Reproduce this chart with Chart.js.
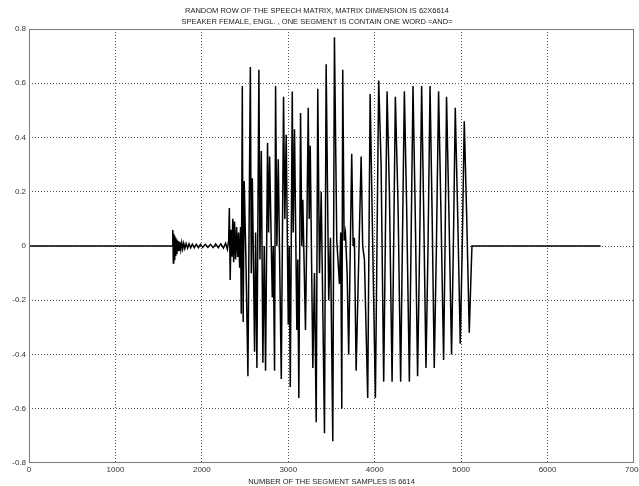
<!DOCTYPE html>
<html>
<head>
<meta charset="utf-8">
<script src="https://cdn.jsdelivr.net/npm/chart.js@4.4.1/dist/chart.umd.min.js"></script>
<style>
  body { margin: 0; background: #fff; }
  #wrap { width: 639px; height: 486px; }
</style>
</head>
<body>
<div id="wrap"><canvas id="speech-chart"></canvas></div>
<script>
const titleLines = [
  'RANDOM ROW OF THE SPEECH MATRIX, MATRIX DIMENSION IS 62X6614',
  'SPEAKER FEMALE, ENGL. , ONE SEGMENT IS CONTAIN ONE WORD =AND='
];
const xAxisLabel = 'NUMBER OF THE SEGMENT SAMPLES IS 6614';
const xTicks = [0, 1000, 2000, 3000, 4000, 5000, 6000, 7000];
const yTicks = [-0.8, -0.6, -0.4, -0.2, 0, 0.2, 0.4, 0.6, 0.8];

// peaks / troughs
const sampleIdx = [
  0, 1655, 1662, 1666, 1670, 1675, 1680, 1686, 1692, 1698, 1705, 1712, 1720, 1728, 1737, 1746,
  1756, 1767, 1778, 1790, 1803, 1818, 1835, 1852, 1870, 1890, 1912, 1935, 1960, 1985, 2010, 2040,
  2070, 2100, 2130, 2160, 2190, 2220, 2250, 2275, 2295, 2310, 2318, 2328, 2338, 2348, 2358, 2368,
  2378, 2390, 2402, 2414, 2425, 2437, 2448, 2456, 2468, 2478, 2490, 2510, 2533, 2561, 2572, 2584,
  2610, 2622, 2637, 2660, 2672, 2688, 2706, 2722, 2737, 2760, 2772, 2784, 2815, 2826, 2841, 2853,
  2868, 2884, 2919, 2945, 2960, 2976, 3000, 3011, 3023, 3046, 3057, 3072, 3099, 3110, 3122, 3142,
  3157, 3168, 3199, 3214, 3231, 3242, 3254, 3284, 3303, 3323, 3341, 3361, 3381, 3419, 3438, 3468,
  3488, 3515, 3534, 3561, 3592, 3607, 3619, 3630, 3646, 3661, 3681, 3699, 3734, 3750, 3765, 3785,
  3815, 3843, 3861, 3881, 3919, 3947, 3977, 4008, 4046, 4074, 4104, 4143, 4170, 4201, 4239, 4270,
  4300, 4343, 4369, 4401, 4443, 4470, 4496, 4520, 4543, 4568, 4593, 4617, 4640, 4665, 4689, 4714,
  4739, 4768, 4797, 4814, 4831, 4860, 4889, 4910, 4932, 4961, 4990, 5013, 5036, 5065, 5094, 5110,
  5125, 6614
];
const amplitude = [
  0, 0, 0.02, 0.059, -0.063, 0.045, -0.05, 0.038, -0.035, 0.03, -0.028, 0.024, -0.02, 0.018, -0.016, 0.015,
  -0.013, 0.012, -0.011, 0.01, -0.009, 0.009, -0.008, 0.008, -0.007, 0.007, -0.006, 0.006, -0.006, 0.006, -0.005, 0.006,
  -0.005, 0.006, -0.006, 0.007, -0.006, 0.008, -0.008, 0.01, -0.012, 0.02, 0.14, -0.125, 0.06, -0.04, 0.10, -0.06,
  0.09, -0.05, 0.07, -0.04, 0.05, -0.08, 0.07, -0.25, 0.59, -0.28, 0.24, -0.05, -0.48, 0.66, -0.1, 0.25,
  -0.39, 0.05, -0.45, 0.65, -0.05, 0.35, -0.43, 0.0, -0.46, 0.38, 0.05, 0.33, -0.19, 0.0, -0.46, 0.59,
  0.0, 0.32, -0.49, 0.55, 0.1, 0.41, -0.29, 0.0, -0.52, 0.57, 0.05, 0.43, -0.31, -0.05, -0.56, 0.49,
  0.0, 0.17, -0.31, 0.05, 0.51, 0.1, 0.37, -0.45, -0.1, -0.65, 0.58, -0.1, 0.2, -0.69, 0.67, -0.2,
  0.03, -0.72, 0.77, 0.02, -0.14, 0.05, -0.60, 0.65, 0.02, 0.05, -0.1, -0.40, 0.34, 0.0, 0.03, -0.46,
  -0.05, 0.33, 0.0, -0.05, -0.56, 0.56, 0.0, -0.56, 0.61, 0.3, -0.50, 0.57, 0.2, -0.50, 0.55, 0.15,
  -0.50, 0.57, 0.15, -0.50, 0.59, 0.1, -0.48, 0.0, 0.59, 0.1, -0.45, 0.0, 0.59, 0.1, -0.45, 0.0,
  0.57, 0.1, -0.42, 0.0, 0.55, 0.1, -0.40, 0.0, 0.51, 0.1, -0.36, 0.0, 0.46, 0.1, -0.32, -0.15,
  0.0, 0.0
];

const FONT = "'Liberation Sans', Arial, sans-serif";

// matlab style box round the plot
const frameBox = {
  id: 'frameBox',
  afterDatasetsDraw(chart) {
    const { ctx, chartArea: a } = chart;
    ctx.save();
    ctx.strokeStyle = '#7a7a7a';
    ctx.lineWidth = 1;
    ctx.strokeRect(a.left + 0.5, a.top + 0.5, a.right - a.left - 1, a.bottom - a.top - 1);
    ctx.restore();
  }
};

const edge = (vals) => (c) => (c.tick && vals.includes(c.tick.value)) ? 'rgba(0,0,0,0)' : '#555';

const points = sampleIdx.map((x, i) => ({ x: x, y: amplitude[i] }));

new Chart(document.getElementById('speech-chart'), {
  type: 'line',
  data: {
    datasets: [{
      data: points,
      borderColor: '#000',
      borderWidth: 1.5,
      pointRadius: 0,
      tension: 0,
      fill: false
    }]
  },
  options: {
    responsive: true,
    maintainAspectRatio: false,
    animation: false,
    layout: { padding: { left: 0, right: 5, top: 0, bottom: 0 } },
    plugins: {
      legend: { display: false },
      tooltip: { enabled: false },
      title: {
        display: true,
        text: titleLines,
        color: '#222',
        font: { family: FONT, size: 7.5, weight: 'normal', lineHeight: '11px' },
        padding: { top: 5, bottom: 2 }
      }
    },
    scales: {
      x: {
        type: 'linear',
        min: 0,
        max: 7000,
        afterBuildTicks: (s) => { s.ticks = xTicks.map(v => ({ value: v })); },
        afterFit: (s) => { s.height = 23; s.paddingLeft = 0; s.paddingRight = 0; },
        ticks: {
          color: '#333',
          font: { family: FONT, size: 8 },
          padding: 2,
          maxRotation: 0,
          autoSkip: false,
          callback: (v) => String(v)
        },
        grid: { color: edge([0, 7000]), lineWidth: 1, drawTicks: false },
        border: { display: false, dash: [1, 2] },
        title: {
          display: true,
          text: xAxisLabel,
          color: '#222',
          font: { family: FONT, size: 7.5 },
          padding: { top: 0, bottom: 0 }
        }
      },
      y: {
        min: -0.8,
        max: 0.8,
        afterBuildTicks: (s) => { s.ticks = yTicks.map(v => ({ value: v })); },
        afterFit: (s) => { s.width = 29; s.paddingTop = 0; s.paddingBottom = 0; },
        ticks: {
          color: '#333',
          font: { family: FONT, size: 8 },
          padding: 3,
          callback: (v) => String(Math.round(v * 10) / 10)
        },
        grid: { color: edge([-0.8, 0.8]), lineWidth: 1, drawTicks: false },
        border: { display: false, dash: [1, 2] }
      }
    }
  },
  plugins: [frameBox]
});
</script>
</body>
</html>
